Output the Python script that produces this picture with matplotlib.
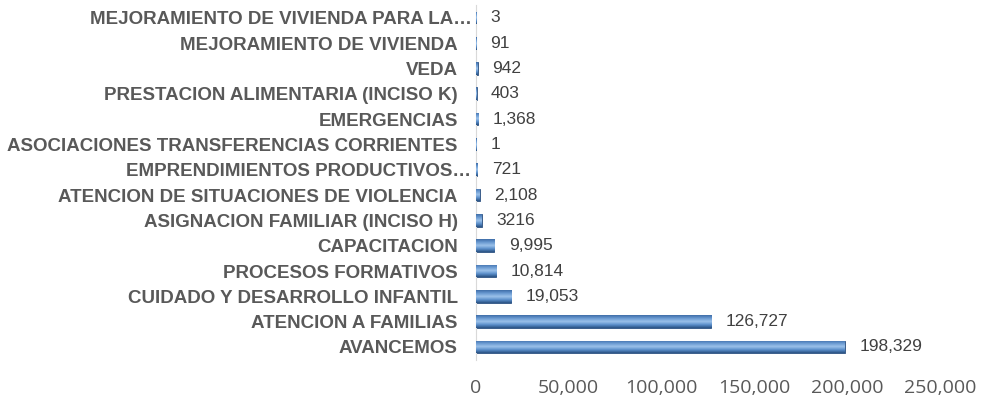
import numpy as np
import matplotlib.pyplot as plt
from matplotlib.colors import LinearSegmentedColormap
from matplotlib.ticker import FuncFormatter
from matplotlib.transforms import ScaledTranslation

# --- datos ---
categorias = [
    "AVANCEMOS",
    "ATENCION A FAMILIAS",
    "CUIDADO Y DESARROLLO INFANTIL",
    "PROCESOS FORMATIVOS",
    "CAPACITACION",
    "ASIGNACION FAMILIAR (INCISO H)",
    "ATENCION DE SITUACIONES DE VIOLENCIA",
    "EMPRENDIMIENTOS PRODUCTIVOS…",
    "ASOCIACIONES TRANSFERENCIAS CORRIENTES",
    "EMERGENCIAS",
    "PRESTACION ALIMENTARIA (INCISO K)",
    "VEDA",
    "MEJORAMIENTO DE VIVIENDA",
    "MEJORAMIENTO DE VIVIENDA PARA LA…",
]
valores = [198329, 126727, 19053, 10814, 9995, 3216, 2108, 721, 1, 1368, 403, 942, 91, 3]
etiquetas = ["198,329", "126,727", "19,053", "10,814", "9,995", "3216", "2,108",
             "721", "1", "1,368", "403", "942", "91", "3"]
xticks = [0, 50000, 100000, 150000, 200000, 250000]

fig = plt.figure(figsize=(9.85, 4.0), dpi=100)
ax = fig.add_axes([0.483, 0.101, 0.472, 0.886])

y = np.arange(len(categorias))
bars = ax.barh(y, valores, height=0.5, color="#4F81BD", edgecolor="#2B4F7E", linewidth=0.6, zorder=2)

# sombreado tipo cilindro
cmap = LinearSegmentedColormap.from_list("bev", ["#2A5283", "#5B8FCB", "#9CC2EA", "#6A9AD2", "#3F6EA8"])
grad = np.linspace(0, 1, 64).reshape(-1, 1)
for b in bars:
    x0, y0, w, h = b.get_x(), b.get_y(), b.get_width(), b.get_height()
    if w <= 0:
        continue
    im = ax.imshow(grad, extent=[x0, x0 + w, y0, y0 + h], cmap=cmap, aspect="auto",
                   origin="lower", zorder=3, interpolation="bilinear")
    im.set_clip_path(b)

for yi, v, t in zip(y, valores, etiquetas):
    ax.annotate(t, (v, yi), xytext=(10.5, 0), textcoords="offset points", va="center", ha="left",
                fontsize=12.5, color="#404040", family="Liberation Sans")

ax.set_xlim(0, 250000)
ax.set_ylim(-0.5, len(categorias) - 0.5)
ax.set_yticks(y)
ax.set_yticklabels(categorias, fontsize=13.5, fontweight="bold", color="#595959", family="Liberation Sans")
ax.set_xticks(xticks)
ax.xaxis.set_major_formatter(FuncFormatter(lambda v, p: f"{int(v):,}"))
ax.tick_params(axis="x", length=0, pad=14, labelsize=14, labelcolor="#595959",
               labelfontfamily="Open Sans")
ax.tick_params(axis="y", length=0, pad=13)

# las etiquetas truncadas llegan casi al eje
for lbl in ax.get_yticklabels():
    if lbl.get_text().endswith("…"):
        lbl.set_transform(lbl.get_transform() + ScaledTranslation(10 / 72, 0, fig.dpi_scale_trans))

for s in ["top", "right", "bottom"]:
    ax.spines[s].set_visible(False)
ax.spines["left"].set_color("#D9D9D9")

fig.savefig("out.png", dpi=100)
